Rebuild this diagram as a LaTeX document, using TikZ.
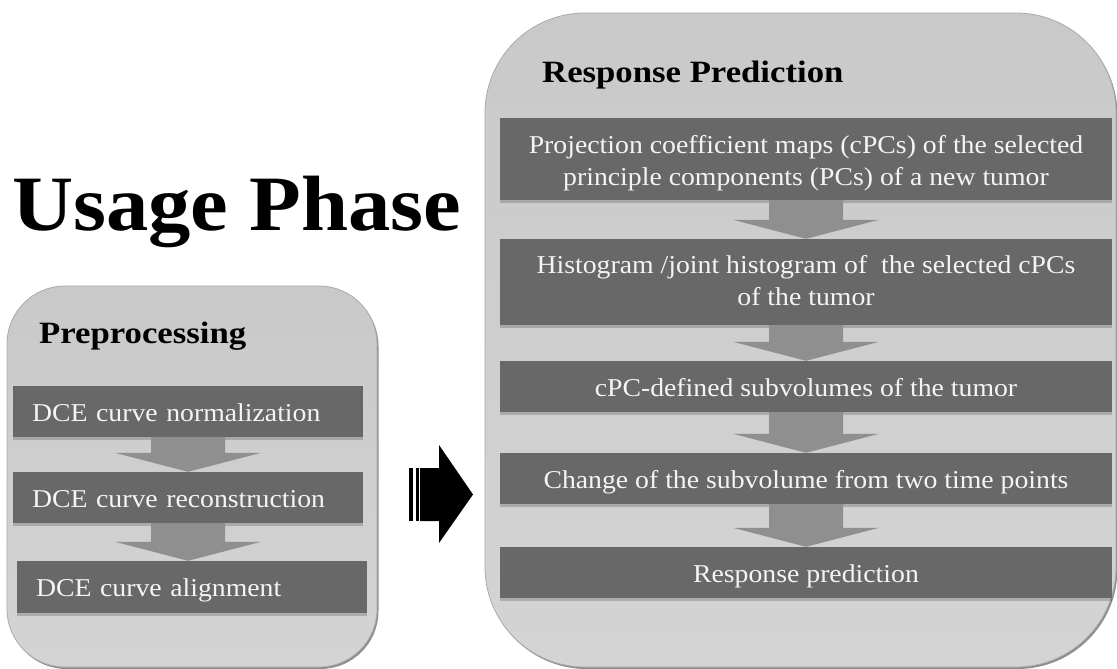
\documentclass[tikz,border=0pt]{standalone}
\usepackage{fontspec}
\setmainfont{Liberation Serif}[FakeStretch=1.08]
\newfontfamily\hdfont{Liberation Serif}[FakeStretch=1.12]
\usetikzlibrary{calc,shadows}
\definecolor{paneltop}{HTML}{C9C9C9}
\definecolor{panelbot}{HTML}{D4D4D4}
\definecolor{panelline}{HTML}{ABABAB}
\definecolor{panelshadow}{HTML}{8E8E8E}
\definecolor{boxfill}{HTML}{686868}
\definecolor{boxtext}{HTML}{F4F4F4}
\definecolor{arrowfill}{HTML}{8F8F8F}
\tikzset{
  panel/.style={draw=panelline, line width=0.8pt, top color=paneltop, bottom color=panelbot,
    drop shadow={shadow xshift=1.5pt, shadow yshift=-2pt, fill=panelshadow, opacity=1}},
  stepbox/.style={fill=boxfill, text=boxtext, inner ysep=0pt, inner xsep=0pt,
    font=\fontsize{25.7}{32}\selectfont, text depth=0pt,
    drop shadow={shadow xshift=0pt, shadow yshift=-3pt, fill=black, opacity=0.18}},
  oneline/.style={text height=19pt},
  lefttext/.style={minimum width=350pt, minimum height=51pt, text width=312pt, align=left},
  righttext/.style={minimum width=612pt, align=center},
  header/.style={font=\hdfont\bfseries\fontsize{31}{36}\selectfont, inner sep=0pt, anchor=base west},
}
\newcommand\blkdown[2]{%
  \fill[arrowfill] let \p1=(#1.south), \p2=(#2.north) in
    (\x1-37pt,\y1) -- (\x1+37pt,\y1) -- (\x1+37pt,\y2+19pt) -- (\x1+73pt,\y2+19pt)
    -- (\x1,\y2) -- (\x1-73pt,\y2+19pt) -- (\x1-37pt,\y2+19pt) -- cycle;}
\begin{document}
\begin{tikzpicture}[x=1pt, y=-1pt]
\useasboundingbox (0,0) rectangle (1117,669);
\fill[white] (0,0) rectangle (1117,669);

% title
\node[font=\bfseries\fontsize{78.4}{90}\selectfont, inner sep=0pt, anchor=base west] (title) at (12,230) {Usage Phase};

% panels
\node[panel, rounded corners=58pt, minimum width=370pt, minimum height=381pt, inner sep=0pt] (prepanel) at (192,476.5) {};
\node[panel, rounded corners=100pt, minimum width=631pt, minimum height=654pt, inner sep=0pt] (resppanel) at (800.5,340) {};

% headers
\node[header] (prehead) at (39,343) {Preprocessing};
\node[header] (resphead) at (542,83) {Response Prediction};

% preprocessing steps
\node[stepbox, oneline, lefttext] (l1) at (188,411.5) {DCE curve normalization};
\node[stepbox, oneline, lefttext] (l2) at (188,497.5) {DCE curve reconstruction};
\node[stepbox, oneline, lefttext, minimum height=52pt] (l3) at (192,587) {DCE curve alignment};

% response prediction steps
\node[stepbox, righttext, minimum height=82pt, text height=52pt] (r1) at (806,159)
  {Projection coefficient maps (cPCs) of the selected\\principle components (PCs) of a new tumor};
\node[stepbox, righttext, minimum height=86pt, text height=46pt] (r2) at (806,282)
  {Histogram /joint histogram of~ the selected cPCs\\of the tumor};
\node[stepbox, oneline, righttext, minimum height=51pt] (r3) at (806,386.5) {cPC-defined subvolumes of the tumor};
\node[stepbox, oneline, righttext, minimum height=51pt] (r4) at (806,478.5) {Change of the subvolume from two time points};
\node[stepbox, oneline, righttext, minimum height=51pt] (r5) at (806,572.5) {Response prediction};

% block arrows between steps
\blkdown{l1}{l2}
\blkdown{l2}{l3}
\blkdown{r1}{r2}
\blkdown{r2}{r3}
\blkdown{r3}{r4}
\blkdown{r4}{r5}

% black arrow between the panels
\fill[black] (409,468) rectangle (413,521);
\fill[black] (415.5,468) rectangle (418.5,521);
\fill[black] (420,468) -- (439,468) -- (439,445) -- (473,494.5) -- (439,543) -- (439,521) -- (420,521) -- cycle;
\end{tikzpicture}
\end{document}
